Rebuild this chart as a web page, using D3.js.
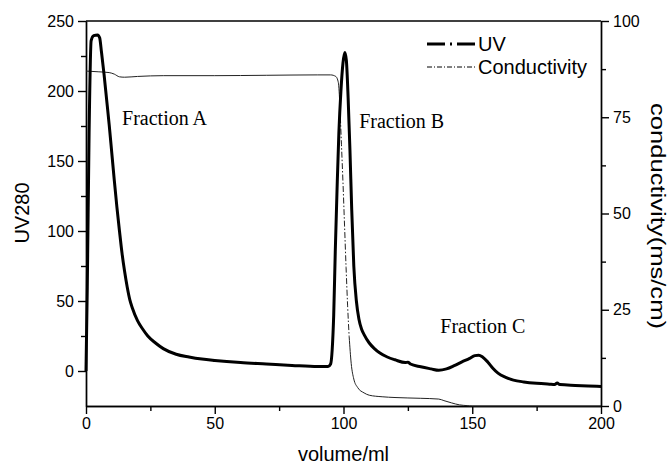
<!DOCTYPE html>
<html>
<head>
<meta charset="utf-8">
<script src="https://cdn.jsdelivr.net/npm/d3@7"></script>
<style>
  body { margin: 0; background: #fff; }
  svg { display: block; font-family: "Liberation Sans", Arial, sans-serif; }
  .axis path, .axis line { stroke: #000; stroke-width: 1.4; }
  .axis text { font-size: 16px; font-family: "Liberation Sans", Arial, sans-serif; fill: #000; }
  .title { font-size: 20px; fill: #000; }
  .fraction { font-family: "Liberation Serif", "Times New Roman", serif; font-size: 20px; fill: #000; }
</style>
</head>
<body>
<svg id="chart" width="672" height="466"></svg>
<script>
// ticks
const volumeTicks = [0, 50, 100, 150, 200];
const volumeMinor = [25, 75, 125, 175];
const uvTicks = [0, 50, 100, 150, 200, 250];
const uvMinor = [25, 75, 125, 175, 225];
const condTicks = [0, 25, 50, 75, 100];
const condMinor = [12.5, 37.5, 62.5, 87.5];

// UV280 trace, [volume ml, absorbance]
const uvPoints = [
  [0, 0], [0.5, 60], [1.2, 170], [2, 236], [3, 239.5], [4.5, 240], [5.3, 238],
  [6, 228], [7, 212], [8, 194], [9, 176], [10, 156], [11, 136], [12, 117],
  [13, 100], [14, 84], [15, 71], [16, 60], [17, 51], [18, 45], [20, 36],
  [22, 30], [24, 25], [27, 20], [30, 16], [35, 12], [40, 10], [45, 8.5],
  [50, 7.5], [60, 6], [70, 5], [80, 4], [90, 3.2], [94, 3.2], [95, 5],
  [95.6, 15], [96.2, 40], [96.8, 85], [97.5, 130], [98.2, 170], [99, 200],
  [99.8, 220], [100.5, 227.5], [101.1, 222], [101.8, 195], [102.5, 158],
  [103.2, 115], [104, 75], [105, 50], [106, 37], [107, 30], [108, 26],
  [110, 20], [112, 16], [114, 13], [117, 10], [120, 8], [124, 6], [125, 6.3],
  [126, 5], [130, 3], [134, 1.5], [137, 0.5], [140, 1.5], [143, 3.8],
  [146, 6.5], [149, 9], [151, 11], [152.5, 11.3], [154, 10], [156, 6.5],
  [158, 2], [160, -1.5], [163, -4.5], [166, -6.5], [170, -7.8], [175, -8.8],
  [180, -9.4], [182, -9.6], [183, -8.6], [184, -9.7], [190, -10.3],
  [195, -10.7], [200, -11]
];

// conductivity trace, [volume ml, ms/cm]
const condPoints = [
  [0, 87], [5, 86.8], [9, 86.6], [11, 86.2], [13, 85.5], [15, 85.4], [20, 85.6],
  [30, 85.8], [50, 85.8], [70, 85.9], [90, 86], [95, 86], [97, 85.6], [98, 84],
  [98.6, 78], [99.2, 68], [99.8, 58], [100.4, 47], [101, 36], [101.6, 26],
  [102.2, 18], [103, 11], [104, 7], [105.5, 4.8], [108, 3.4], [110, 2.8],
  [115, 2.4], [120, 2.2], [130, 2.0], [137, 1.8], [139, 1.4], [142, 0.8],
  [145, 0.3], [148, 0.1], [150, 0], [200, 0]
];

const seriesNames = ["UV", "Conductivity"];
const fractionNames = ["Fraction A", "Fraction B", "Fraction C"];

const margin = { top: 21, right: 71, bottom: 60, left: 86 };
const width = 672;
const height = 466;

const svg = d3.select("#chart");

const x = d3.scaleLinear().domain([0, 200]).range([margin.left, width - margin.right]);
const yUV = d3.scaleLinear().domain([-25, 250]).range([height - margin.bottom, margin.top]);
const yCond = d3.scaleLinear().domain([0, 100]).range([height - margin.bottom, margin.top]);

const bottomY = height - margin.bottom;
const rightX = width - margin.right;

// minor ticks first
svg.append("g").attr("class", "axis")
  .attr("transform", `translate(0,${bottomY})`)
  .call(d3.axisBottom(x).tickValues(volumeMinor).tickSize(5).tickSizeOuter(0).tickFormat(""));
svg.append("g").attr("class", "axis")
  .attr("transform", `translate(${margin.left},0)`)
  .call(d3.axisLeft(yUV).tickValues(uvMinor).tickSize(5).tickSizeOuter(0).tickFormat(""));
svg.append("g").attr("class", "axis")
  .attr("transform", `translate(${rightX},0)`)
  .call(d3.axisRight(yCond).tickValues(condMinor).tickSize(5).tickSizeOuter(0).tickFormat(""));

svg.append("g").attr("class", "axis")
  .attr("transform", `translate(0,${bottomY})`)
  .call(d3.axisBottom(x).tickValues(volumeTicks).tickSize(8).tickSizeOuter(0).tickPadding(4));
svg.append("g").attr("class", "axis")
  .attr("transform", `translate(${margin.left},0)`)
  .call(d3.axisLeft(yUV).tickValues(uvTicks).tickSize(8).tickSizeOuter(0).tickPadding(4));
svg.append("g").attr("class", "axis")
  .attr("transform", `translate(${rightX},0)`)
  .call(d3.axisRight(yCond).tickValues(condTicks).tickSize(8).tickSizeOuter(0).tickPadding(4));

svg.selectAll(".axis").attr("font-size", null).attr("font-family", null);

// top frame line
svg.append("line")
  .attr("x1", margin.left).attr("x2", rightX)
  .attr("y1", margin.top).attr("y2", margin.top)
  .attr("stroke", "#000").attr("stroke-width", 1.4);

const uvLine = d3.line()
  .x((d) => x(d[0]))
  .y((d) => yUV(d[1]))
  .curve(d3.curveMonotoneX);

const condLine = d3.line()
  .x((d) => x(d[0]))
  .y((d) => yCond(d[1]))
  .curve(d3.curveMonotoneX);

// the steep drop shows the dash-dot pattern, flat parts look solid
const steep = [98.6, 102.2];
const condParts = [
  { pts: condPoints.filter((d) => d[0] <= steep[0]), dash: null },
  { pts: condPoints.filter((d) => d[0] >= steep[0] && d[0] <= steep[1]), dash: "6,2,1.5,2" },
  { pts: condPoints.filter((d) => d[0] >= steep[1]), dash: null }
];

svg.selectAll(".cond")
  .data(condParts)
  .join("path")
  .attr("class", "cond")
  .attr("d", (d) => condLine(d.pts))
  .attr("fill", "none")
  .attr("stroke", "#222")
  .attr("stroke-width", 1)
  .attr("stroke-dasharray", (d) => d.dash);

svg.append("path")
  .datum(uvPoints)
  .attr("d", uvLine)
  .attr("fill", "none")
  .attr("stroke", "#000")
  .attr("stroke-width", 3)
  .attr("stroke-linejoin", "round");

// fraction labels, anchored in data units
const fractionAt = [[14, 175.5], [106.1, 173.5], [137.6, 27]];
svg.selectAll(".fraction")
  .data(fractionNames)
  .join("text")
  .attr("class", "fraction")
  .attr("x", (d, i) => x(fractionAt[i][0]))
  .attr("y", (d, i) => yUV(fractionAt[i][1]))
  .text((d) => d);

// legend
const legend = svg.append("g").attr("transform", "translate(427,44)");
const legendStyles = [
  { width: 3, dash: "18,5,2,5" },
  { width: 1, dash: "5,2,1,2" }
];
seriesNames.forEach((name, i) => {
  const row = legend.append("g").attr("transform", `translate(0,${i * 23})`);
  row.append("line")
    .attr("x1", 0).attr("x2", 48)
    .attr("stroke", "#000")
    .attr("stroke-width", legendStyles[i].width)
    .attr("stroke-dasharray", legendStyles[i].dash);
  row.append("text")
    .attr("class", "title")
    .attr("x", 51)
    .attr("y", 7)
    .text(name);
});

// axis titles
svg.append("text")
  .attr("class", "title")
  .attr("x", (margin.left + rightX) / 2)
  .attr("y", 461)
  .attr("text-anchor", "middle")
  .text("volume/ml");

svg.append("text")
  .attr("class", "title")
  .attr("transform", "translate(29,213) rotate(-90)")
  .attr("text-anchor", "middle")
  .text("UV280");

svg.append("text")
  .attr("class", "title")
  .attr("transform", "translate(651,216) rotate(90)")
  .attr("text-anchor", "middle")
  .attr("textLength", 226)
  .attr("lengthAdjust", "spacingAndGlyphs")
  .text("conductivity(ms/cm)");
</script>
</body>
</html>
